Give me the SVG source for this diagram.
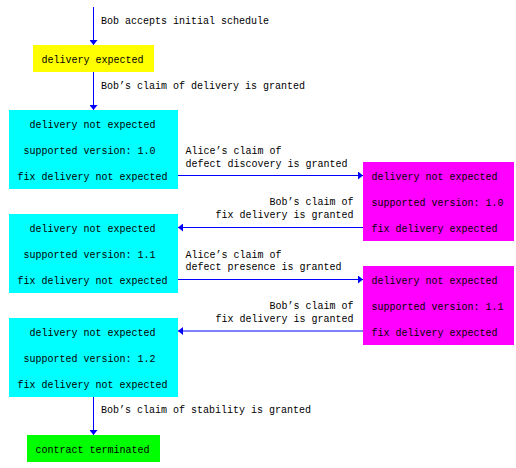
<svg xmlns="http://www.w3.org/2000/svg" width="516" height="468" viewBox="0 0 516 468">
<defs>
<style>
text{font-family:"Liberation Mono","DejaVu Sans Mono",monospace;font-size:10px;fill:#000}
.e{stroke:#0000ff;stroke-width:1;fill:none;marker-end:url(#ah)}
.cy{fill:#00ffff}.mg{fill:#ff00ff}
.r{text-anchor:end}
</style>
<marker id="ah" markerUnits="userSpaceOnUse" markerWidth="6" markerHeight="8" refX="5" refY="4" orient="auto"><path d="M0,0 L5,4 L0,8 z" fill="#0000ff"/></marker>
</defs>
<rect width="516" height="468" fill="#fff"/>
<g id="connectors">
<line class="e" x1="93.5" y1="7" x2="93.5" y2="45"/>
<text x="101" y="24">Bob accepts initial schedule</text>
<line class="e" x1="93.5" y1="72" x2="93.5" y2="110"/>
<text x="101" y="89">Bob’s claim of delivery is granted</text>
<line class="e" x1="178" y1="175.5" x2="363" y2="175.5"/>
<text x="185.5" y="154">Alice’s claim of</text>
<text x="185.5" y="166.5">defect discovery is granted</text>
<line class="e" x1="363" y1="227.5" x2="178" y2="227.5"/>
<text class="r" x="353.5" y="205">Bob’s claim of</text>
<text class="r" x="353.5" y="218">fix delivery is granted</text>
<line class="e" x1="178" y1="279.5" x2="363" y2="279.5"/>
<text x="185.5" y="257.5">Alice’s claim of</text>
<text x="185.5" y="270">defect presence is granted</text>
<line class="e" x1="363" y1="331" x2="178" y2="331"/>
<text class="r" x="353.5" y="309">Bob’s claim of</text>
<text class="r" x="353.5" y="322">fix delivery is granted</text>
<line class="e" x1="93.5" y1="397" x2="93.5" y2="435"/>
<text x="101" y="413">Bob’s claim of stability is granted</text>
</g>
<g id="n0"><rect x="33" y="45" width="121" height="27" fill="#ffff00"/><text x="41.5" y="63">delivery expected</text></g>
<g id="n1"><rect class="cy" x="9" y="110" width="169" height="79"/>
<text x="29.5" y="128">delivery not expected</text><text x="23.5" y="154">supported version: 1.0</text><text x="17.5" y="180">fix delivery not expected</text></g>
<g id="n2"><rect class="mg" x="363" y="162" width="151" height="79"/>
<text x="371.5" y="180">delivery not expected</text><text x="371.5" y="206">supported version: 1.0</text><text x="371.5" y="232">fix delivery expected</text></g>
<g id="n3"><rect class="cy" x="9" y="214" width="169" height="79"/>
<text x="29.5" y="232">delivery not expected</text><text x="23.5" y="258">supported version: 1.1</text><text x="17.5" y="284">fix delivery not expected</text></g>
<g id="n4"><rect class="mg" x="363" y="266" width="151" height="79"/>
<text x="371.5" y="284">delivery not expected</text><text x="371.5" y="310">supported version: 1.1</text><text x="371.5" y="336">fix delivery expected</text></g>
<g id="n5"><rect class="cy" x="9" y="318" width="169" height="79"/>
<text x="29.5" y="336">delivery not expected</text><text x="23.5" y="362">supported version: 1.2</text><text x="17.5" y="388">fix delivery not expected</text></g>
<g id="n6"><rect x="27" y="435" width="133" height="27" fill="#00ff00"/><text x="35.5" y="453">contract terminated</text></g>
</svg>
